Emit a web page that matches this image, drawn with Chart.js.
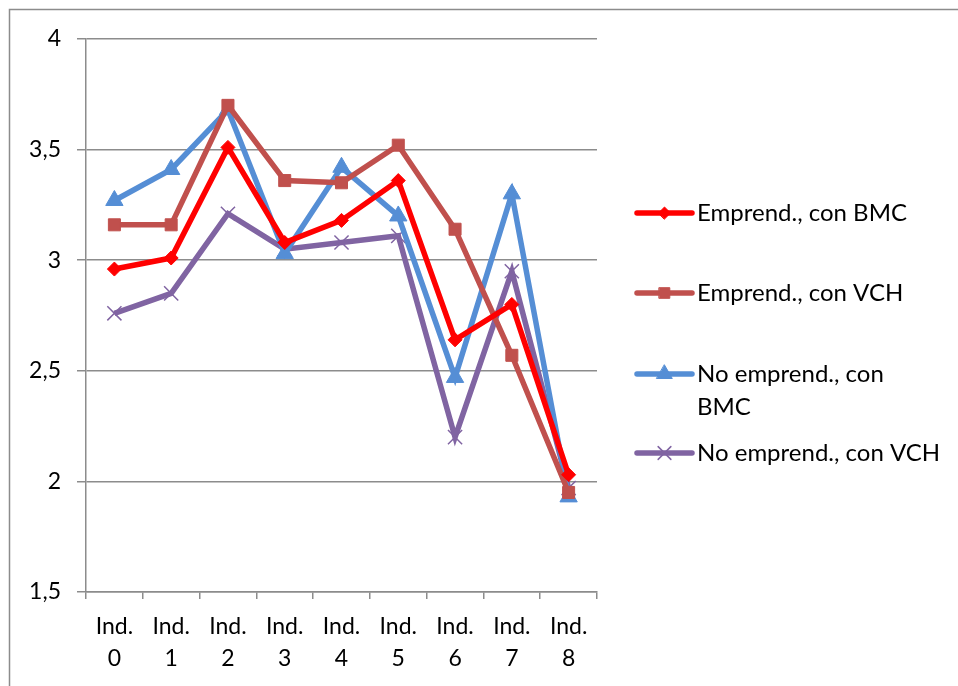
<!DOCTYPE html>
<html>
<head>
<meta charset="utf-8">
<script src="https://cdn.jsdelivr.net/npm/chart.js@4/dist/chart.umd.min.js"></script>
<style>
  html, body { margin: 0; padding: 0; background: #fff; }
  #wrap { position: relative; width: 958px; height: 686px; }
</style>
</head>
<body>
<div id="wrap"><canvas id="c" width="958" height="686"></canvas></div>
<script>
// Categories and series values
const categories = [["Ind.", "0"], ["Ind.", "1"], ["Ind.", "2"], ["Ind.", "3"], ["Ind.", "4"], ["Ind.", "5"], ["Ind.", "6"], ["Ind.", "7"], ["Ind.", "8"]];
const emprendBMC   = [2.96, 3.01, 3.51, 3.08, 3.18, 3.36, 2.64, 2.80, 2.03];
const emprendVCH   = [3.16, 3.16, 3.70, 3.36, 3.35, 3.52, 3.14, 2.57, 1.95];
const noEmprendBMC = [3.27, 3.41, 3.68, 3.03, 3.42, 3.20, 2.47, 3.30, 1.93];
const noEmprendVCH = [2.76, 2.85, 3.21, 3.05, 3.08, 3.11, 2.20, 2.95, 1.97];
const seriesNames  = [["Emprend., con BMC"], ["Emprend., con VCH"], ["No emprend., con", "BMC"], ["No emprend., con VCH"]];
const yMin = 1.5, yMax = 4, yStep = 0.5;

const FONT = "Lato, 'Open Sans', sans-serif";
const GRID = "#8c8c8c";

function series(label, data, color, style, radius, bw) {
  return {
    label: label.join(" "), legendLines: label, data,
    borderColor: color, backgroundColor: color,
    pointBackgroundColor: color, pointBorderColor: color,
    borderWidth: 5.5, pointStyle: style, pointRadius: radius,
    pointBorderWidth: bw, pointHoverRadius: radius, tension: 0
  };
}

// Outer frame drawn behind the chart
const framePlugin = {
  id: "frame",
  beforeDraw(chart) {
    const ctx = chart.ctx;
    ctx.save();
    ctx.strokeStyle = "#8c8c8c";
    ctx.lineWidth = 1.5;
    ctx.strokeRect(9.5, 9.5, 2000, 2000);
    ctx.restore();
  }
};

// Legend to the right of the plot: line sample with marker, then wrapped label
const legendPlugin = {
  id: "sideLegend",
  afterDraw(chart) {
    const ctx = chart.ctx;
    const rows = [213, 293, 374, 453];
    const x0 = 637, x1 = 692, tx = 697, lh = 33;
    chart.data.datasets.forEach((ds, i) => {
      const y = rows[i];
      ctx.save();
      ctx.strokeStyle = ds.borderColor;
      ctx.lineWidth = 5.5;
      ctx.lineCap = "round";
      ctx.beginPath(); ctx.moveTo(x0, y); ctx.lineTo(x1, y); ctx.stroke();
      ctx.fillStyle = ds.backgroundColor;
      ctx.strokeStyle = ds.borderColor;
      ctx.lineWidth = ds.pointBorderWidth;
      Chart.helpers.drawPoint(ctx, { pointStyle: ds.pointStyle, radius: ds.pointRadius - 1, borderWidth: ds.pointBorderWidth }, (x0 + x1) / 2, y);
      ctx.fillStyle = "#000";
      ctx.font = "24px " + FONT;
      ctx.textBaseline = "middle";
      ctx.textAlign = "left";
      ds.legendLines.forEach((t, k) => ctx.fillText(t, tx, y + k * lh));
      ctx.restore();
    });
  }
};

new Chart(document.getElementById("c"), {
  type: "line",
  data: {
    labels: categories,
    datasets: [
      series(seriesNames[0], emprendBMC, "#ff0000", "rectRot", 7, 1),
      series(seriesNames[1], emprendVCH, "#c0504d", "rect", 8.5, 1),
      series(seriesNames[2], noEmprendBMC, "#558ed5", "triangle", 10, 1),
      series(seriesNames[3], noEmprendVCH, "#8064a2", "crossRot", 10, 1.5)
    ]
  },
  options: {
    responsive: false,
    animation: false,
    layout: { padding: { top: 39, right: 361, bottom: 0, left: 0 } },
    plugins: { legend: { display: false }, tooltip: { enabled: false } },
    scales: {
      x: {
        offset: true,
        grid: { offset: true, drawOnChartArea: false, drawTicks: true, tickLength: 7, color: GRID, lineWidth: 1.5 },
        border: { color: GRID, width: 1.5 },
        ticks: { color: "#000", font: { family: FONT, size: 23, lineHeight: 1.38 }, padding: 12, maxRotation: 0, autoSkip: false },
        afterFit(s) { s.height = 94; }
      },
      y: {
        min: yMin, max: yMax,
        grid: { color: GRID, lineWidth: 1.5, drawTicks: true, tickLength: 9 },
        border: { color: GRID, width: 1.5 },
        ticks: {
          stepSize: yStep, color: "#000", padding: 16,
          font: { family: FONT, size: 23 },
          callback: v => String(v).replace(".", ",")
        },
        afterFit(s) { s.width = 86; }
      }
    }
  },
  plugins: [framePlugin, legendPlugin]
});
</script>
</body>
</html>
